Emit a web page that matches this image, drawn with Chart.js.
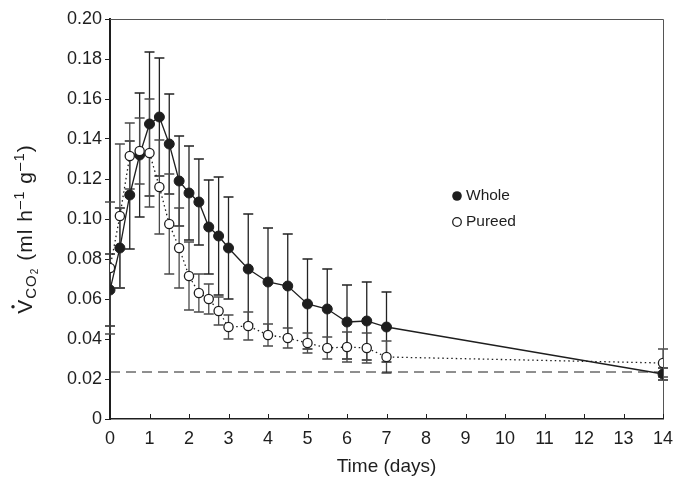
<!DOCTYPE html>
<html>
<head>
<meta charset="utf-8">
<script src="https://cdn.jsdelivr.net/npm/chart.js@4.4.1/dist/chart.umd.min.js"></script>
<style>
  html, body { margin: 0; padding: 0; background: #fff; }
  #wrap { width: 673px; height: 485px; position: relative; }
</style>
</head>
<body>
<div id="wrap"><canvas id="c" width="673" height="485"></canvas></div>
<script>
// ---- data ----
const days = [0, 0.25, 0.5, 0.75, 1, 1.25, 1.5, 1.75, 2, 2.25, 2.5, 2.75, 3, 3.5, 4, 4.5, 5, 5.5, 6, 6.5, 7, 14];
const wholeVals = [0.0645, 0.0855, 0.112, 0.132, 0.1475, 0.151, 0.1375, 0.119, 0.113, 0.1085, 0.096, 0.0915, 0.0855, 0.075, 0.0685, 0.0665, 0.0575, 0.055, 0.0485, 0.049, 0.046, 0.0225];
const wholeErr  = [0.018, 0.020, 0.027, 0.031, 0.036, 0.0295, 0.025, 0.0225, 0.0235, 0.0215, 0.0235, 0.0295, 0.0255, 0.0275, 0.027, 0.026, 0.0225, 0.020, 0.0185, 0.0195, 0.0175, 0.003];
const pureedVals = [0.0755, 0.1015, 0.1315, 0.134, 0.133, 0.116, 0.0975, 0.0855, 0.0715, 0.063, 0.060, 0.054, 0.046, 0.0465, 0.042, 0.0405, 0.038, 0.0355, 0.036, 0.0355, 0.031, 0.028];
const pureedErr  = [0.033, 0.036, 0.0165, 0.0165, 0.027, 0.0235, 0.025, 0.020, 0.017, 0.0095, 0.0075, 0.007, 0.006, 0.007, 0.0055, 0.005, 0.005, 0.0055, 0.0075, 0.0075, 0.008, 0.007];
const baselineVal = 0.0235;
const baselineDays = [0, 14];
const seriesNames = ['Whole', 'Pureed'];
const xTitle = 'Time (days)';
const yTickMin = 0, yTickMax = 0.20, yTickStep = 0.02;
const xTickMin = 0, xTickMax = 14, xTickStep = 1;

const INK = '#1e1e1e';
const FONT = '"Liberation Sans", Arial, sans-serif';

const toPts = (xs, ys) => xs.map((x, i) => ({ x: x, y: ys[i] }));

// error bars drawn beneath the lines
const errorBars = {
  id: 'errorBars',
  beforeDatasetsDraw(chart) {
    const { ctx, scales: { x, y } } = chart;
    const sets = [
      { vals: wholeVals, err: wholeErr, color: '#222' },
      { vals: pureedVals, err: pureedErr, color: '#4a4a4a' }
    ];
    ctx.save();
    ctx.lineWidth = 1.3;
    sets.forEach(s => {
      ctx.strokeStyle = s.color;
      days.forEach((d, i) => {
        const px = x.getPixelForValue(d);
        const top = y.getPixelForValue(s.vals[i] + s.err[i]);
        const bot = y.getPixelForValue(s.vals[i] - s.err[i]);
        ctx.beginPath();
        ctx.moveTo(px, top); ctx.lineTo(px, bot);
        ctx.moveTo(px - 5, top); ctx.lineTo(px + 5, top);
        ctx.moveTo(px - 5, bot); ctx.lineTo(px + 5, bot);
        ctx.stroke();
      });
    });
    ctx.restore();
  }
};

// frame, inward x ticks, legend and y title
const decor = {
  id: 'decor',
  afterDraw(chart) {
    const { ctx, chartArea: a, scales: { x } } = chart;
    ctx.save();
    // top & right frame
    ctx.strokeStyle = '#555';
    ctx.lineWidth = 1;
    ctx.beginPath();
    ctx.moveTo(a.left, a.top + 0.5); ctx.lineTo(a.right + 0.5, a.top + 0.5); ctx.lineTo(a.right + 0.5, a.bottom);
    ctx.stroke();
    // inward x ticks
    ctx.strokeStyle = INK;
    ctx.lineWidth = 1;
    ctx.beginPath();
    x.ticks.forEach(t => {
      const px = Math.round(x.getPixelForValue(t.value)) + 0.5;
      ctx.moveTo(px, a.bottom); ctx.lineTo(px, a.bottom - 5);
    });
    ctx.stroke();

    // legend
    ctx.font = '15.5px ' + FONT;
    ctx.textBaseline = 'middle';
    ctx.textAlign = 'left';
    ctx.fillStyle = INK;
    ctx.beginPath(); ctx.arc(457, 196, 4.8, 0, Math.PI * 2); ctx.fill();
    ctx.fillText(seriesNames[0], 466, 196);
    ctx.beginPath(); ctx.arc(457, 222, 4.3, 0, Math.PI * 2);
    ctx.fillStyle = '#fff'; ctx.fill();
    ctx.lineWidth = 1.3; ctx.strokeStyle = INK; ctx.stroke();
    ctx.fillStyle = INK;
    ctx.fillText(seriesNames[1], 466, 222);

    // y axis title, rotated, with sub/superscripts
    const parts = [
      { t: 'V', f: 21, dy: 0, dot: true },
      { t: 'CO', f: 15, dy: 4 },
      { t: '2', f: 10, dy: 6 },
      { t: ' (ml h', f: 21, dy: 0 },
      { t: '\u20131', f: 15, dy: -8 },
      { t: ' g', f: 21, dy: 0 },
      { t: '\u20131', f: 15, dy: -8 },
      { t: ')', f: 21, dy: 0 }
    ];
    if ('letterSpacing' in ctx) ctx.letterSpacing = '1px';
    let total = 0;
    parts.forEach(p => { ctx.font = p.f + 'px ' + FONT; p.w = ctx.measureText(p.t).width; total += p.w; });
    ctx.translate(32, 229);
    ctx.rotate(-Math.PI / 2);
    ctx.textBaseline = 'alphabetic';
    let cx = -total / 2;
    parts.forEach(p => {
      ctx.font = p.f + 'px ' + FONT;
      ctx.fillText(p.t, cx, p.dy);
      if (p.dot) {
        ctx.beginPath(); ctx.arc(cx + p.w / 2 - 0.5, -19, 1.7, 0, Math.PI * 2); ctx.fill();
      }
      cx += p.w;
    });
    ctx.restore();
  }
};

new Chart(document.getElementById('c'), {
  type: 'line',
  data: {
    datasets: [
      {
        label: seriesNames[1],
        data: toPts(days, pureedVals),
        borderColor: INK,
        borderWidth: 1.3,
        borderDash: [1.5, 3],
        pointRadius: 4.6,
        pointBackgroundColor: '#fff',
        pointBorderColor: INK,
        pointBorderWidth: 1.3,
        tension: 0,
        order: 1
      },
      {
        label: seriesNames[0],
        data: toPts(days, wholeVals),
        borderColor: INK,
        borderWidth: 1.3,
        pointRadius: 5,
        pointBackgroundColor: INK,
        pointBorderColor: INK,
        pointBorderWidth: 1,
        tension: 0,
        order: 2
      },
      {
        label: 'baseline',
        data: baselineDays.map(d => ({ x: d, y: baselineVal })),
        borderColor: INK,
        borderWidth: 1,
        borderDash: [10, 6],
        pointRadius: 0,
        order: 3
      }
    ]
  },
  options: {
    responsive: false,
    animation: false,
    devicePixelRatio: 1,
    layout: { padding: { left: 0, right: 0, top: 19, bottom: 0 } },
    plugins: { legend: { display: false }, tooltip: { enabled: false } },
    scales: {
      x: {
        type: 'linear',
        min: xTickMin, max: xTickMax,
        afterFit(s) { s.height = 66; s.paddingRight = 10; s.paddingLeft = 0; },
        border: { display: true, color: INK, width: 1.5 },
        grid: { display: true, drawOnChartArea: false, drawTicks: false },
        ticks: { stepSize: xTickStep, color: INK, padding: 9, font: { family: FONT, size: 18 }, maxRotation: 0 },
        title: { display: true, text: xTitle, color: INK, font: { family: FONT, size: 19 }, padding: { top: 0, bottom: 7 } }
      },
      y: {
        min: yTickMin, max: yTickMax,
        afterFit(s) { s.width = 110; },
        border: { display: true, color: INK, width: 2 },
        grid: { display: true, drawOnChartArea: false, drawTicks: true, tickLength: 5, color: INK },
        ticks: {
          stepSize: yTickStep, color: INK, padding: 3,
          font: { family: FONT, size: 18 },
          callback: v => (Math.abs(v) < 1e-9 ? '0' : v.toFixed(2))
        }
      }
    }
  },
  plugins: [errorBars, decor]
});
</script>
</body>
</html>
